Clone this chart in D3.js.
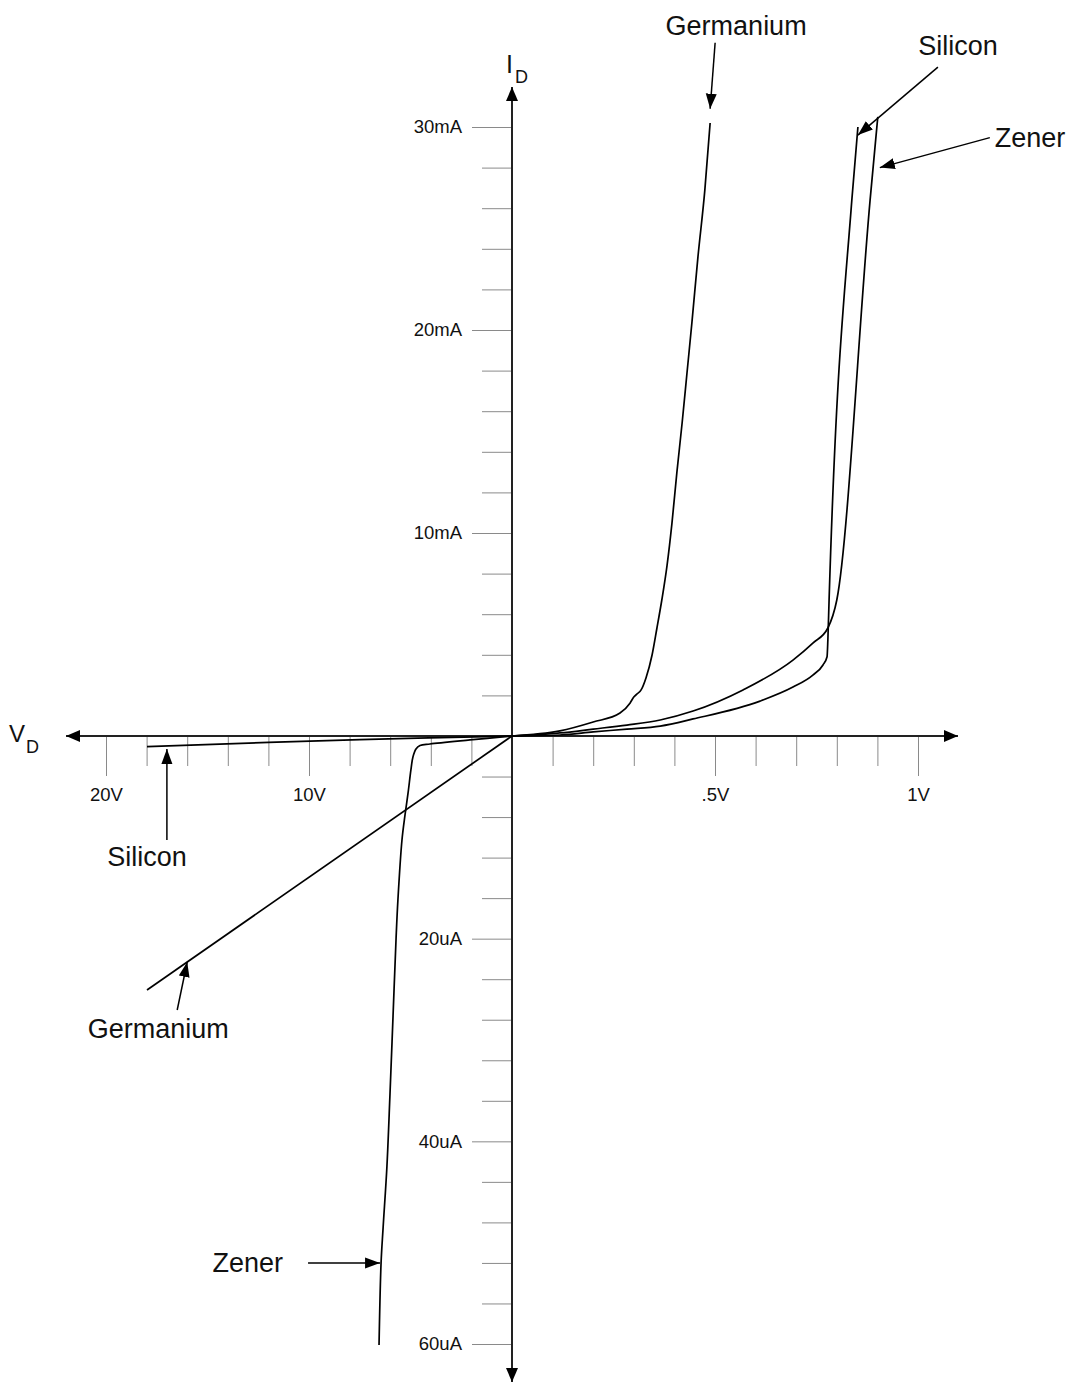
<!DOCTYPE html>
<html><head><meta charset="utf-8">
<script src="https://cdn.jsdelivr.net/npm/d3@7"></script>
<style>
body{margin:0;background:#fff}
text{font-family:"Liberation Sans",Arial,Helvetica,sans-serif;fill:#111}
</style>
</head><body>
<svg id="chart" width="1072" height="1383"></svg>
<script>
// Forward values: [volts, mA]; reverse values: [volts, uA] (negative side of the split axes)
const germaniumForward = [[0,0],[0.118,0.25],[0.200,0.69],[0.266,1.13],[0.291,1.63],[0.300,1.92],[0.308,2.07],[0.318,2.27],[0.330,2.86],[0.345,3.99],[0.357,5.32],[0.369,6.70],[0.382,8.42],[0.394,10.49],[0.406,12.96],[0.419,15.42],[0.431,17.88],[0.443,20.34],[0.458,23.60],[0.475,26.90],[0.488,30.2]];
const siliconForward = [[0,0],[0.118,0.05],[0.200,0.20],[0.283,0.34],[0.365,0.49],[0.446,0.84],[0.611,1.72],[0.692,2.41],[0.741,3.00],[0.766,3.50],[0.776,3.90],[0.778,4.73],[0.781,6.70],[0.837,26.4],[0.852,30.0]];
const zenerForward = [[0,0],[0.118,0.15],[0.200,0.34],[0.283,0.54],[0.365,0.79],[0.446,1.23],[0.569,2.27],[0.692,3.74],[0.741,4.58],[0.778,5.32],[0.800,6.70],[0.882,26.4],[0.901,30.5]];
const germaniumReverse = [[0,0],[-17.98,-25.06]];
const siliconReverse = [[0,0],[-7.49,-0.35],[-17.98,-1.05]];
const zenerReverse = [[0,0],[-2.07,-0.39],[-4.04,-0.79],[-4.53,-0.94],[-4.73,-1.28],[-4.88,-2.07],[-4.98,-3.35],[-5.12,-5.62],[-5.27,-7.79],[-5.42,-10.26],[-5.62,-16.18],[-5.71,-19.93],[-5.86,-27.63],[-6.01,-35.32],[-6.16,-42.43],[-6.35,-48.54],[-6.45,-52.0],[-6.55,-60.1]];

const xMajorTicks = [-20,-10,0.5,1];
const xMajorLabels = ["20V","10V",".5V","1V"];
const xMinorTicks = [-18,-16,-14,-12,-8,-6,-4,-2,0.1,0.2,0.3,0.4,0.6,0.7,0.8,0.9];
const yMajorTicks = [30,20,10,-20,-40,-60];
const yMajorLabels = ["30mA","20mA","10mA","20uA","40uA","60uA"];
const yMinorTicks = [2,4,6,8,12,14,16,18,22,24,26,28,-4,-8,-12,-16,-24,-28,-32,-36,-44,-48,-52,-56];

const annotationLabels = ["Germanium","Silicon","Zener","Silicon","Germanium","Zener"];
const annotationTargets = [[0.488,30.9],[0.852,29.6],[0.906,28.0],[-17.0,-1.28],[-16.0,-22.3],[-6.5,-52]];

const svg = d3.select("#chart");
svg.append("rect").attr("width",1072).attr("height",1383).attr("fill","#fff");

const x = d3.scaleLinear().domain([-20,0,1]).range([106,512,918]);
const y = d3.scaleLinear().domain([-60,0,30]).range([1344,736,127]);
const ox = x(0), oy = y(0);

const defs = svg.append("defs");
defs.append("marker").attr("id","ah").attr("markerUnits","userSpaceOnUse")
  .attr("markerWidth",16).attr("markerHeight",12).attr("refX",15).attr("refY",5.5)
  .attr("orient","auto")
  .append("path").attr("d","M0,0L15,5.5L0,11Z").attr("fill","#000");
defs.append("marker").attr("id","axh").attr("markerUnits","userSpaceOnUse")
  .attr("markerWidth",16).attr("markerHeight",14).attr("refX",14).attr("refY",6)
  .attr("orient","auto")
  .append("path").attr("d","M0,0L14,6L0,12Z").attr("fill","#000");

// ticks via d3 axes
const tickStyle = g => {
  g.select(".domain").remove();
  g.selectAll(".tick line").attr("stroke","#8a8a8a").attr("stroke-width",1);
  g.selectAll(".tick text").attr("font-size",18.5).attr("fill","#111")
    .attr("font-family","'Liberation Sans',Arial,sans-serif");
};
svg.append("g").attr("transform",`translate(0,${oy})`)
  .call(d3.axisBottom(x).tickValues(xMinorTicks).tickSize(30).tickFormat(""))
  .call(tickStyle);
svg.append("g").attr("transform",`translate(0,${oy})`)
  .call(d3.axisBottom(x).tickValues(xMajorTicks).tickSize(40).tickPadding(12)
    .tickFormat(d => xMajorLabels[xMajorTicks.indexOf(d)]))
  .call(tickStyle);
svg.append("g").attr("transform",`translate(${ox},0)`)
  .call(d3.axisLeft(y).tickValues(yMinorTicks).tickSize(30).tickFormat(""))
  .call(tickStyle);
svg.append("g").attr("transform",`translate(${ox},0)`)
  .call(d3.axisLeft(y).tickValues(yMajorTicks).tickSize(40).tickPadding(10)
    .tickFormat(d => yMajorLabels[yMajorTicks.indexOf(d)]))
  .call(tickStyle);

// main axes with arrowheads
svg.append("line").attr("x1",ox).attr("x2",66).attr("y1",oy).attr("y2",oy)
  .attr("stroke","#222").attr("stroke-width",2).attr("marker-end","url(#axh)");
svg.append("line").attr("x1",ox).attr("x2",958).attr("y1",oy).attr("y2",oy)
  .attr("stroke","#222").attr("stroke-width",2).attr("marker-end","url(#axh)");
svg.append("line").attr("x1",ox).attr("x2",ox).attr("y1",oy).attr("y2",87)
  .attr("stroke","#222").attr("stroke-width",2).attr("marker-end","url(#axh)");
svg.append("line").attr("x1",ox).attr("x2",ox).attr("y1",oy).attr("y2",1382)
  .attr("stroke","#222").attr("stroke-width",2).attr("marker-end","url(#axh)");

// axis titles
const it = svg.append("text").attr("x",506).attr("y",73).attr("font-size",25);
it.append("tspan").text("I");
it.append("tspan").attr("x",515).attr("y",83).attr("font-size",18).text("D");
const vt = svg.append("text").attr("x",9).attr("y",742).attr("font-size",24);
vt.append("tspan").text("V");
vt.append("tspan").attr("x",26).attr("y",753).attr("font-size",18).text("D");

// curves
const lineFwd = d3.line().x(d => x(d[0])).y(d => y(d[1])).curve(d3.curveMonotoneX);
const lineRev = d3.line().x(d => x(d[0])).y(d => y(d[1])).curve(d3.curveCatmullRom.alpha(0.5));
[germaniumForward, siliconForward, zenerForward]
  .forEach(s => svg.append("path").attr("d", lineFwd(s)).attr("fill","none")
    .attr("stroke","#000").attr("stroke-width",1.7));
[germaniumReverse, siliconReverse, zenerReverse]
  .forEach(s => svg.append("path").attr("d", lineRev(s)).attr("fill","none")
    .attr("stroke","#000").attr("stroke-width",1.7));

// annotations (tail / label offsets in px from the arrow tip)
const tailOff = [[5,-66],[80,-68],[110,-30],[0,91],[-10,48],[-72,0]];
const labelOff = [[26,-74,"middle"],[100,-80,"middle"],[115,-21,"start"],[-20,117,"middle"],[-29,76,"middle"],[-97,9,"end"]];
annotationTargets.forEach((t,i) => {
  const tx = x(t[0]), ty = y(t[1]);
  svg.append("line").attr("x1",tx+tailOff[i][0]).attr("y1",ty+tailOff[i][1])
    .attr("x2",tx).attr("y2",ty).attr("stroke","#000").attr("stroke-width",1.5)
    .attr("marker-end","url(#ah)");
  svg.append("text").attr("x",tx+labelOff[i][0]).attr("y",ty+labelOff[i][1])
    .attr("text-anchor",labelOff[i][2]).attr("font-size",27).text(annotationLabels[i]);
});
</script>
</body></html>
